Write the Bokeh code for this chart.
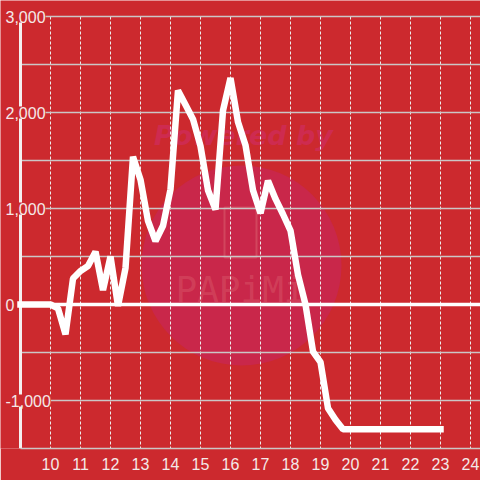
from bokeh.plotting import figure
from bokeh.models import Range1d, FixedTicker, ColumnDataSource, LabelSet
from bokeh.core.properties import value
from bokeh.embed import file_html
from bokeh.resources import INLINE

# ---------------- data ----------------
hours = [9.0, 9.25, 9.5, 9.75, 10.0, 10.25, 10.5, 10.75, 11.0, 11.25, 11.5, 11.75,
         12.0, 12.25, 12.5, 12.75, 13.0, 13.25, 13.5, 13.75, 14.0, 14.25, 14.5, 14.75,
         15.0, 15.25, 15.5, 15.75, 16.0, 16.25, 16.5, 16.75, 17.0, 17.25, 17.5, 17.75,
         18.0, 18.25, 18.5, 18.75, 19.0, 19.25, 19.5, 19.75, 20.0, 20.25, 20.5, 20.75,
         21.0, 21.25, 21.5, 21.75, 22.0, 22.25, 22.5, 22.75, 23.0]
values = [0, 0, 0, 0, 0, -40, -310, 270, 350, 400, 550, 150,
          500, -15, 380, 1540, 1300, 870, 660, 820, 1200, 2230, 2080, 1930,
          1650, 1190, 990, 2020, 2360, 1900, 1660, 1190, 950, 1290, 1100, 940,
          770, 310, 0, -490, -600, -1080, -1200, -1300, -1300, -1300, -1300, -1300,
          -1300, -1300, -1300, -1300, -1300, -1300, -1300, -1300, -1300]

x_ticks = [10, 11, 12, 13, 14, 15, 16, 17, 18, 19, 20, 21, 22, 23, 24]
y_label_values = [3000, 2000, 1000, 0, -1000]
y_label_texts = ["3,000", "2,000", "1,000", "0", "-1,000"]
grid_values = [3000, 2500, 2000, 1500, 1000, 500, -500, -1000]
zero_value = [0]

# ---------------- layout / style ----------------
W = H = 480
X_START, X_END = 25 / 3.0, 73 / 3.0
Y_MIN, Y_TOP = -1500, 304 / 0.096
X_AXIS_POS = 9.0
GRID_TOP = 3000
BG = "#cc292e"
LABEL_COLOR = "#f4e8e8"
FONT = "Liberation Sans"
FS = "16px"


def rx(px):
    return X_START + px / 480.0 * (X_END - X_START)


def ry(py):
    return Y_TOP - py / 448.0 * (Y_TOP - Y_MIN)


p = figure(width=W, height=H, x_range=Range1d(X_START, X_END), y_range=Range1d(Y_MIN, Y_TOP),
           output_backend="svg", toolbar_location=None, y_axis_location=None,
           background_fill_color=BG, border_fill_color=BG, outline_line_color=None,
           min_border_left=0, min_border_right=0, min_border_top=0, min_border_bottom=32)
p.xgrid.visible = False
p.ygrid.visible = False

# watermark
p.scatter(x=[rx(241)], y=[ry(265)], size=200, marker="circle",
          fill_color="#c9274a", line_color=None)
p.text(x=[rx(243)], y=[ry(135)], text=["Powered by"], text_font=value("DejaVu Sans"),
       text_font_style="bold italic", text_font_size="27px", text_color="#ce2b50",
       text_align="center", text_baseline="middle")
p.rect(x=[rx(240)], y=[ry(232)], width=32, height=50, width_units="screen",
       height_units="screen", fill_alpha=0, line_color="#dc6470", line_alpha=0.5, line_width=2)
p.text(x=[rx(240)], y=[ry(289)], text=["PAPiMi"], text_font=value("DejaVu Sans Mono"),
       text_font_size="36px", text_color="#dc6470", text_alpha=0.4,
       text_align="center", text_baseline="middle")

# vertical dashed grid
vsrc = ColumnDataSource(dict(x=x_ticks, y0=[GRID_TOP] * len(x_ticks), y1=[Y_MIN] * len(x_ticks)))
p.segment(x0="x", x1="x", y0="y0", y1="y1", source=vsrc, line_color="#ececec",
          line_width=1, line_dash="3 2")

# horizontal grid
hsrc = ColumnDataSource(dict(y=grid_values, x0=[X_AXIS_POS] * len(grid_values),
                             x1=[X_END] * len(grid_values)))
p.segment(x0="x0", x1="x1", y0="y", y1="y", source=hsrc, line_color="#cbc6c6", line_width=1.3)

# zero line
p.segment(x0=[X_AXIS_POS], x1=[X_END], y0=zero_value, y1=zero_value,
          line_color="#ffffff", line_width=3.5)

# left axis line
p.segment(x0=[X_AXIS_POS], x1=[X_AXIS_POS], y0=[Y_MIN], y1=[GRID_TOP],
          line_color="#f4f0f0", line_width=3)

# data line
p.line(hours, values, line_color="#ffffff", line_width=6.5, line_cap="square", line_join="bevel")

# y labels
lsrc = ColumnDataSource(dict(y=y_label_values, text=y_label_texts))
p.add_layout(LabelSet(x=5, y="y", x_units="screen", text="text", source=lsrc,
                      text_font=value(FONT), text_font_size=value(FS), text_color=LABEL_COLOR,
                      text_align="left", text_baseline="middle",
                      background_fill_color=BG))

# x axis
ax = p.xaxis[0]
ax.ticker = FixedTicker(ticks=x_ticks)
ax.bounds = (X_AXIS_POS, X_END)
ax.axis_line_color = "#cbc6c6"
ax.axis_line_width = 1.3
ax.major_tick_line_color = None
ax.minor_tick_line_color = None
ax.major_label_text_font = FONT
ax.major_label_text_font_size = FS
ax.major_label_text_color = LABEL_COLOR
ax.major_label_standoff = 3

open("out.html", "w").write(file_html(p, INLINE))
